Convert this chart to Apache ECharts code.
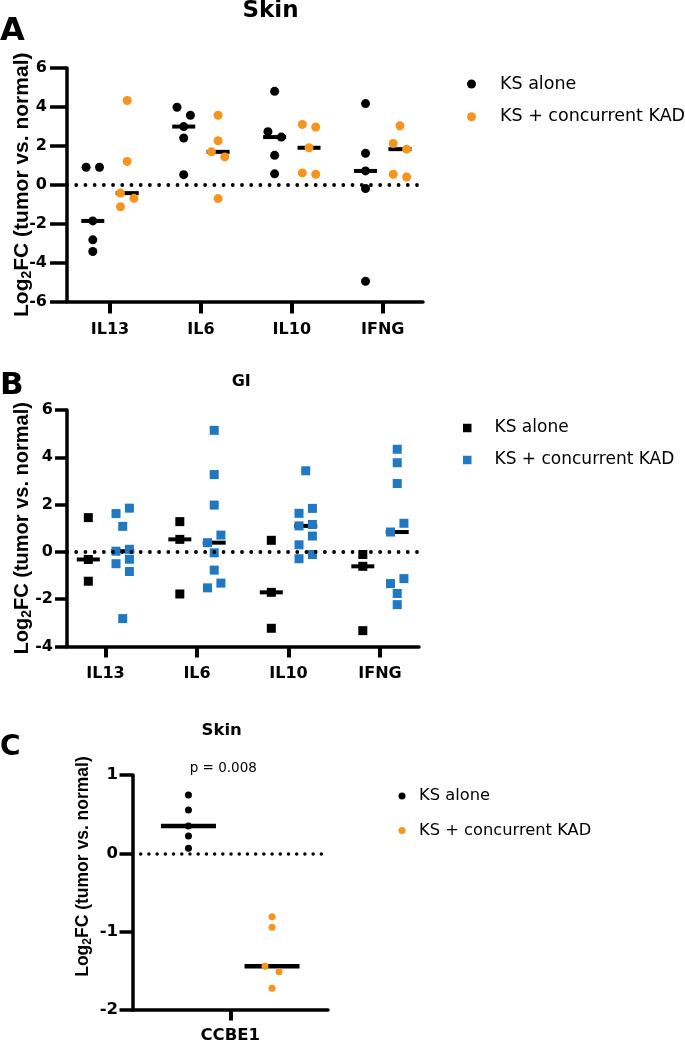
<!DOCTYPE html>
<html><head><meta charset="utf-8">
<script src="https://cdn.jsdelivr.net/npm/echarts@6/dist/echarts.min.js"></script>
<style>
html,body{margin:0;padding:0;background:#fff;width:685px;height:1042px;overflow:hidden}
.p{position:absolute;left:0;width:685px}
</style></head><body>
<div id="a" class="p" style="top:0;height:345px"></div>
<div id="b" class="p" style="top:345px;height:360px"></div>
<div id="c" class="p" style="top:705px;height:337px"></div>
<script>
// ---------- data ----------
const genes = ['IL13', 'IL6', 'IL10', 'IFNG'];
const seriesNames = ['KS alone', 'KS + concurrent KAD'];
// Panel A: Skin
const skinAlone = [[0.9, 0.9, -1.86, -2.83, -3.43], [3.98, 3.57, 2.99, 2.4, 0.52], [4.8, 2.73, 2.45, 1.51, 0.56], [4.17, 1.62, 0.71, -0.19, -4.96]];
const skinKAD   = [[4.33, 1.2, -0.43, -0.7, -1.13], [3.57, 2.26, 1.69, 1.43, -0.71], [3.1, 2.97, 1.9, 0.61, 0.54], [3.03, 2.12, 1.83, 0.54, 0.4]];
// Panel B: GI
const giAlone = [[1.45, -0.32, -1.24], [1.28, 0.53, -1.78], [0.49, -1.71, -3.23], [-0.11, -0.61, -3.33]];
const giKAD   = [[1.85, 1.62, 1.08, 0.11, 0.03, -0.31, -0.5, -0.83, -2.82], [5.14, 3.27, 1.98, 0.71, 0.39, -0.04, -0.77, -1.32, -1.52], [3.43, 1.84, 1.63, 1.16, 1.1, 0.67, 0.3, -0.11, -0.29], [4.34, 3.77, 2.89, 1.21, 0.84, -1.13, -1.34, -1.76, -2.23]];
// Panel C: Skin CCBE1
const ccbeCats = ['CCBE1'];
const ccbeAlone = [[0.745, 0.553, 0.349, 0.221, 0.064]];
const ccbeKAD   = [[-0.809, -0.945, -1.443, -1.511, -1.723]];
const pValueText = 'p = 0.008';
const yRangeA = [-6, 6, 2];
const yRangeB = [-4, 6, 2];
const yRangeC = [-2, 1, 1];

const ORANGE = '#f7941d';
const BLUE = '#1f78c1';

// ---------- helpers ----------
function median(a) { const s = [...a].sort((x, y) => x - y); const m = s.length >> 1; return s.length % 2 ? s[m] : (s[m - 1] + s[m]) / 2; }
// simple beeswarm: overlapping neighbours (sorted by value) alternate left/right of the column centre
function swarm(vals, base, jit, thr, start) {
  const idx = vals.map((v, i) => i).sort((a, b) => vals[b] - vals[a]);
  const x = vals.map(() => base);
  let chain = [idx[0]];
  const flush = () => { if (chain.length > 1) chain.forEach((k, j) => { x[k] = base + (j % 2 === 0 ? start : -start) * jit; }); };
  for (let n = 1; n < idx.length; n++) {
    if (vals[idx[n - 1]] - vals[idx[n]] < thr) chain.push(idx[n]); else { flush(); chain = [idx[n]]; }
  }
  flush();
  return vals.map((v, i) => [x[i], v]);
}
const groupData = (groups, off, jit, thr, start) => groups.flatMap((vals, i) => swarm(vals, i + off, jit, thr, start));
const medianData = (groups, off) => groups.map((vals, i) => [i + off, median(vals)]);

function txt(x, y, text, font, align) {
  return { type: 'text', x: x, y: y, silent: true,
    style: { text: text, font: font, fill: '#000', align: align || 'center', textAlign: align || 'center', verticalAlign: 'middle', textVerticalAlign: 'middle' } };
}

function panel(el, p) {
  const chart = echarts.init(document.getElementById(el), null, { renderer: 'canvas' });
  const xr = p.xMax - p.xMin, yr = p.y[1] - p.y[0];
  const jit = p.jitPx * xr / p.gridW;
  const off = p.offPx * xr / p.gridW;
  const thr = p.thrPx * yr / p.gridH;
  const ticks = p.cats.map((c, i) => i);
  const tickFont = { fontFamily: 'DejaVu Sans', fontWeight: 'bold', fontSize: p.tickFont, color: '#000' };
  const nameFont = { fontFamily: 'Liberation Sans', fontWeight: 'bold', color: '#000' };
  chart.setOption({
    animation: false,
    grid: { left: p.gridL, top: p.gridT, width: p.gridW, height: p.gridH, containLabel: false, outerBoundsMode: 'none' },
    xAxis: {
      type: 'value', min: p.xMin, max: p.xMax,
      axisLine: { show: true, onZero: false, lineStyle: { color: '#000', width: 3.5 } },
      axisTick: { show: true, customValues: ticks, length: p.xTickLen, lineStyle: { color: '#000', width: 4 } },
      axisLabel: Object.assign({ customValues: ticks, margin: p.xLabelMargin, formatter: v => p.cats[Math.round(v)] }, tickFont),
      splitLine: { show: false }
    },
    yAxis: {
      type: 'value', min: p.y[0], max: p.y[1], interval: p.y[2],
      axisLine: { show: true, onZero: false, lineStyle: { color: '#000', width: 3.5 } },
      axisTick: { show: true, length: p.yTickLen, lineStyle: { color: '#000', width: 3.5 } },
      axisLabel: Object.assign({ margin: p.yLabelMargin }, tickFont),
      splitLine: { show: false },
      name: '{m|Log}{s|2}{m|FC (tumor vs. normal)}',
      nameLocation: 'middle', nameRotate: 90, nameGap: p.nameGap, nameMoveOverlap: false,
      nameTextStyle: {
        padding: [0, 0, 0, p.namePad],
        rich: {
          m: Object.assign({ fontSize: p.nameSize, lineHeight: p.nameLH }, nameFont),
          s: Object.assign({ fontSize: Math.round(p.nameSize * 0.68), lineHeight: Math.round(p.nameSize * 0.68), verticalAlign: 'bottom' }, nameFont)
        }
      }
    },
    legend: {
      orient: 'vertical', left: p.lg.left, top: p.lg.top, padding: 0, selectedMode: false,
      itemWidth: p.lg.size, itemHeight: p.lg.size, itemGap: p.lg.gap,
      textStyle: { fontFamily: 'DejaVu Sans', fontSize: p.lg.font, color: '#000', lineHeight: 20, padding: [0, 0, 0, p.lg.pad] },
      data: [{ name: seriesNames[0], icon: p.icon }, { name: seriesNames[1], icon: p.icon }]
    },
    graphic: p.graphic,
    series: [
      { type: 'scatter', name: 'median', symbol: 'rect', symbolSize: [p.medW, p.medH], itemStyle: { color: '#000', opacity: 1 }, z: 2, silent: true,
        data: medianData(p.g1, -off).concat(medianData(p.g2, off)),
        markLine: { silent: true, symbol: ['none', 'none'], label: { show: false },
          lineStyle: { color: '#000', width: p.dotW, type: [0.01, p.dotGap], cap: 'round', opacity: 1 },
          emphasis: { disabled: true }, data: [{ yAxis: 0 }] } },
      { type: 'scatter', name: seriesNames[0], symbol: p.icon, symbolSize: p.sym, itemStyle: { color: '#000', opacity: 1 }, z: 3,
        data: groupData(p.g1, -off, jit, thr, p.start) },
      { type: 'scatter', name: seriesNames[1], symbol: p.icon, symbolSize: p.sym, itemStyle: { color: p.color, opacity: 1 }, z: 4,
        data: groupData(p.g2, off, jit, thr, p.start) }
    ]
  });
}

panel('a', {
  cats: genes, g1: skinAlone, g2: skinKAD, y: yRangeA,
  gridL: 67, gridT: 68, gridW: 356, gridH: 233.5, xMin: -0.473, xMax: 3.443,
  tickFont: 16, yTickLen: 17, yLabelMargin: 20, xTickLen: 12, xLabelMargin: 20,
  nameSize: 21, nameLH: 24, nameGap: 33, namePad: 0,
  jitPx: 6.7, offPx: 17.2, thrPx: 9.5, start: -1, sym: 9, icon: 'circle', color: ORANGE,
  medW: 23, medH: 4, dotW: 3.8, dotGap: 9.2,
  lg: { left: 467, top: 74, size: 9, gap: 12.7, font: 17.5, pad: 19 },
  graphic: [txt(270.5, 11, 'Skin', 'bold 23px "DejaVu Sans"'), txt(0, 31.5, 'A', 'bold 32px "DejaVu Sans"', 'left')]
});
panel('b', {
  cats: genes, g1: giAlone, g2: giKAD, y: yRangeB,
  gridL: 67, gridT: 65, gridW: 352, gridH: 236.5, xMin: -0.421, xMax: 3.426,
  tickFont: 16, yTickLen: 12, yLabelMargin: 14, xTickLen: 11, xLabelMargin: 19.5,
  nameSize: 20, nameLH: 24, nameGap: 33, namePad: 0,
  jitPx: 6.7, offPx: 17.2, thrPx: 9.5, start: 1, sym: 9, icon: 'rect', color: BLUE,
  medW: 23, medH: 4, dotW: 3.8, dotGap: 9.2,
  lg: { left: 463, top: 73, size: 8.5, gap: 12, font: 17, pad: 18 },
  graphic: [txt(241.2, 36.8, 'GI', 'bold 16px "DejaVu Sans"'), txt(0, 40.5, 'B', 'bold 31px "DejaVu Sans"', 'left')]
});
panel('c', {
  cats: ccbeCats, g1: ccbeAlone, g2: ccbeKAD, y: yRangeC,
  gridL: 132.5, gridT: 70, gridW: 195.5, gridH: 235, xMin: -0.5, xMax: 0.5,
  tickFont: 16.5, yTickLen: 13, yLabelMargin: 14.5, xTickLen: 10.5, xLabelMargin: 17,
  nameSize: 17.5, nameLH: 20, nameGap: 39, namePad: 52,
  jitPx: 7, offPx: 41.8, thrPx: 7.5, start: -1, sym: 7, icon: 'circle', color: ORANGE,
  medW: 55, medH: 4.5, dotW: 3.5, dotGap: 8.2,
  lg: { left: 398.5, top: 81, size: 7, gap: 14.5, font: 16.3, pad: 8.5 },
  graphic: [txt(221.7, 25.5, 'Skin', 'bold 16.5px "DejaVu Sans"'), txt(0, 43, 'C', 'bold 28px "DejaVu Sans"', 'left'),
            txt(223.3, 63.3, pValueText, '13.5px "DejaVu Sans"')]
});
</script>
</body></html>
